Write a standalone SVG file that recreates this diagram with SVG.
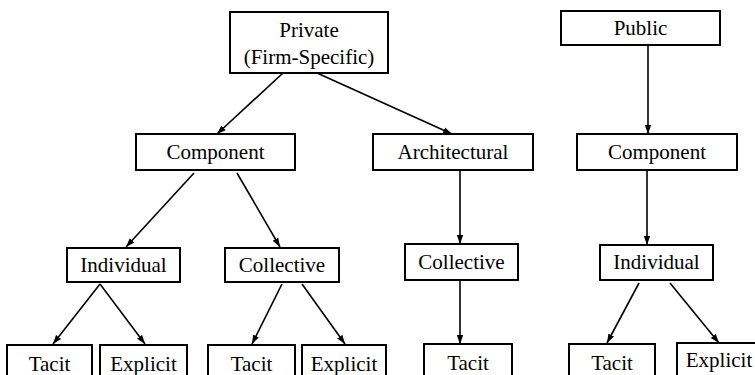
<svg xmlns="http://www.w3.org/2000/svg" width="755" height="375" viewBox="0 0 755 375">
<defs>
<marker id="ah" markerUnits="userSpaceOnUse" markerWidth="10" markerHeight="8" viewBox="0 0 10 8" refX="9" refY="4" orient="auto">
<path d="M0,0.8 L9,4 L0,7.2 Z" fill="#000"/>
</marker>
<style>
.box{fill:#fff;stroke:#000;stroke-width:2}
.t{font-size:21px;fill:#000;text-anchor:middle}
.c{stroke:#000;stroke-width:1.6;fill:none;marker-end:url(#ah)}
</style>
</defs>
<rect width="755" height="375" fill="#fff"/>
<g id="connectors">
<line class="c" x1="283" y1="73" x2="217" y2="134"/>
<line class="c" x1="317" y1="73" x2="452" y2="134"/>
<line class="c" x1="648" y1="45" x2="648" y2="134"/>
<line class="c" x1="194" y1="173" x2="126" y2="247"/>
<line class="c" x1="237" y1="173" x2="280" y2="247"/>
<line class="c" x1="460" y1="170" x2="460" y2="244"/>
<line class="c" x1="647" y1="170" x2="647" y2="245"/>
<line class="c" x1="100" y1="284" x2="53" y2="344"/>
<line class="c" x1="100" y1="284" x2="145" y2="344"/>
<line class="c" x1="282" y1="284" x2="252" y2="344"/>
<line class="c" x1="302" y1="284" x2="345" y2="344"/>
<line class="c" x1="460" y1="280" x2="460" y2="344"/>
<line class="c" x1="639" y1="283" x2="607" y2="343"/>
<line class="c" x1="670" y1="283" x2="719" y2="343"/>
</g>
<g font-family="Liberation Serif, Times New Roman, DejaVu Serif, serif">
<g id="private"><rect class="box" x="230" y="12" width="158" height="61"/><text class="t" x="309" y="37">Private</text><text class="t" x="309" y="64">(Firm-Specific)</text></g>
<g id="public"><rect class="box" x="561" y="11" width="159" height="34"/><text class="t" x="640.5" y="35">Public</text></g>
<g id="component1"><rect class="box" x="136" y="134" width="159" height="36"/><text class="t" x="215.5" y="159">Component</text></g>
<g id="architectural"><rect class="box" x="373" y="134" width="160" height="36"/><text class="t" x="453" y="159">Architectural</text></g>
<g id="component2"><rect class="box" x="577" y="134" width="160" height="36"/><text class="t" x="657" y="159">Component</text></g>
<g id="individual1"><rect class="box" x="67" y="248" width="113" height="34"/><text class="t" x="123.5" y="272">Individual</text></g>
<g id="collective1"><rect class="box" x="225" y="248" width="114" height="34"/><text class="t" x="282" y="272">Collective</text></g>
<g id="collective2"><rect class="box" x="405" y="244" width="113" height="36"/><text class="t" x="461.5" y="269">Collective</text></g>
<g id="individual2"><rect class="box" x="600" y="245" width="113" height="35"/><text class="t" x="656.5" y="269">Individual</text></g>
<g id="tacit1"><rect class="box" x="7" y="345" width="85" height="40"/><text class="t" x="49.5" y="371">Tacit</text></g>
<g id="explicit1"><rect class="box" x="100" y="345" width="87" height="40"/><text class="t" x="143.5" y="371">Explicit</text></g>
<g id="tacit2"><rect class="box" x="208" y="345" width="87" height="40"/><text class="t" x="251.5" y="371">Tacit</text></g>
<g id="explicit2"><rect class="box" x="302" y="345" width="84" height="40"/><text class="t" x="344" y="371">Explicit</text></g>
<g id="tacit3"><rect class="box" x="424" y="344" width="88" height="40"/><text class="t" x="468" y="370">Tacit</text></g>
<g id="tacit4"><rect class="box" x="569" y="344" width="86" height="40"/><text class="t" x="612" y="370">Tacit</text></g>
<g id="explicit3"><rect class="box" x="677" y="343" width="80" height="40"/><text class="t" x="719" y="367">Explicit</text></g>
</g>
</svg>
